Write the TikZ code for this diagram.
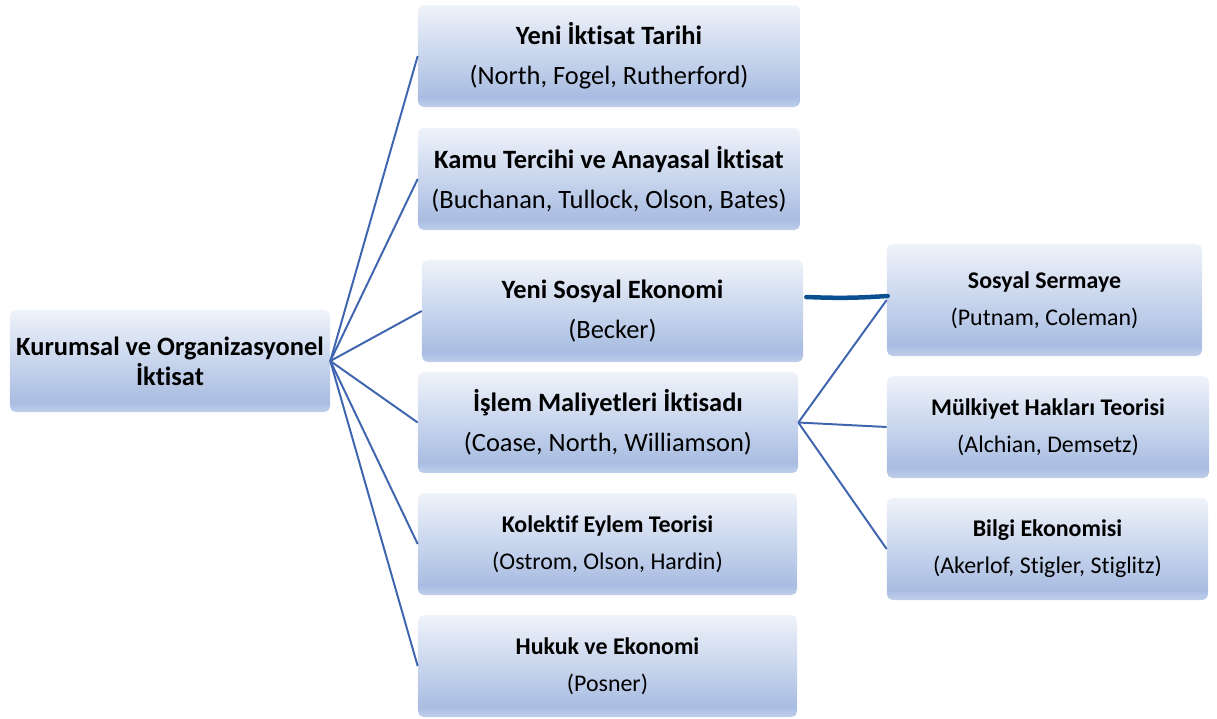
\documentclass[tikz,border=0pt]{standalone}
\usepackage{fontspec}
\setmainfont[RawFeature={-liga;-clig;-dlig;-calt}]{Carlito}
\usetikzlibrary{calc}
\definecolor{boxtop}{RGB}{239,243,250}
\definecolor{boxdeep}{RGB}{169,189,226}
\definecolor{boxbot}{RGB}{192,206,235}
\definecolor{linkblue}{RGB}{63,101,175}
\definecolor{penblue}{RGB}{10,80,145}
\pgfdeclareverticalshading{boxfade}{100bp}{color(0bp)=(boxbot); color(25bp)=(boxbot); color(30bp)=(boxdeep); color(75bp)=(boxtop); color(100bp)=(boxtop)}
\newcommand\bigfont{\fontsize{18.8}{28.5}\selectfont}
\newcommand\smallfont{\fontsize{17}{26.3}\selectfont}

\begin{document}
\begin{tikzpicture}[x=0.025cm,y=-0.025cm,
    box/.style={
      rectangle,
      rounded corners=4pt,
      shading=boxfade,
      draw=none,
      align=center,
      inner sep=0pt,
      minimum height=2.55cm
    },
    bigbox/.style={box, font=\bigfont},
    smallbox/.style={box, font=\smallfont},
    rootbox/.style={box, font={\fontsize{18.8}{21.3}\selectfont\bfseries}},
    link/.style={draw=linkblue, line width=1.4pt},
    pen/.style={draw=penblue, line width=3.2pt, line cap=round}
  ]
  \useasboundingbox (0,0) rectangle (1217,718);

  % root
  \node[rootbox, minimum width=8cm] (root) at (170,361)
    {Kurumsal ve Organizasyonel\\ İktisat};

  % first level
  \node[bigbox, minimum width=9.55cm] (yit) at (609,56)
    {\textbf{Yeni İktisat Tarihi}\\ (North, Fogel, Rutherford)};
  \node[bigbox, minimum width=9.55cm] (kamu) at (609,179)
    {\textbf{Kamu Tercihi ve Anayasal İktisat}\\ (Buchanan, Tullock, Olson, Bates)};
  \node[bigbox, minimum width=9.525cm] (ysoc) at (612.5,311)
    {\textbf{Yeni Sosyal Ekonomi}\\ (Becker)};
  \node[bigbox, minimum width=9.5cm, minimum height=2.525cm] (islem) at (608,422.5)
    {\textbf{İşlem Maliyetleri İktisadı}\\ (Coase, North, Williamson)};
  \node[smallbox, minimum width=9.475cm] (kolek) at (607.5,544)
    {\textbf{Kolektif Eylem Teorisi}\\ (Ostrom, Olson, Hardin)};
  \node[smallbox, minimum width=9.475cm] (hukuk) at (607.5,666)
    {\textbf{Hukuk ve Ekonomi}\\ (Posner)};

  % second level
  \node[smallbox, minimum width=7.875cm, minimum height=2.8cm] (sosyal) at (1044.5,300)
    {\textbf{Sosyal Sermaye}\\ (Putnam, Coleman)};
  \node[smallbox, minimum width=8.05cm] (mulk) at (1048,427)
    {\textbf{Mülkiyet Hakları Teorisi}\\ (Alchian, Demsetz)};
  \node[smallbox, minimum width=8.025cm] (bilgi) at (1047.5,549)
    {\textbf{Bilgi Ekonomisi}\\ (Akerlof, Stigler, Stiglitz)};

  %% links
  \foreach \n in {yit,kamu,ysoc,islem,kolek,hukuk}
    \draw[link] (root.east) -- (\n.west);
  \foreach \n in {sosyal,mulk,bilgi}
    \draw[link] (islem.east) -- (\n.west);

  % hand drawn stroke
  \draw[pen] ($(ysoc.east)+(3,-14)$) to[bend right=3] ($(sosyal.west)+(1,-4)$);
\end{tikzpicture}
\end{document}
